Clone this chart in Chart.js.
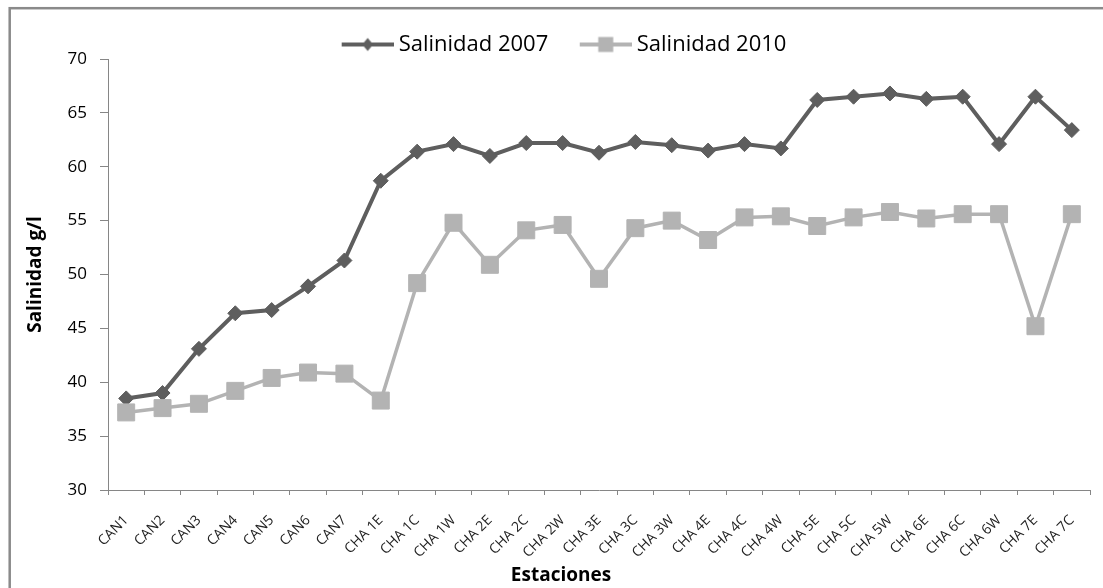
<!DOCTYPE html>
<html>
<head>
<meta charset="utf-8">
<script src="https://cdn.jsdelivr.net/npm/chart.js@4.4.1/dist/chart.umd.min.js"></script>
<style>
  html, body { margin: 0; padding: 0; background: #fff; overflow: hidden; }
  canvas { display: block; }
</style>
</head>
<body>
<canvas id="c" width="1103" height="588"></canvas>
<script>
// Stations along the channel
const estaciones = ['CAN1', 'CAN2', 'CAN3', 'CAN4', 'CAN5', 'CAN6', 'CAN7',
  'CHA 1E', 'CHA 1C', 'CHA 1W', 'CHA 2E', 'CHA 2C', 'CHA 2W', 'CHA 3E', 'CHA 3C', 'CHA 3W',
  'CHA 4E', 'CHA 4C', 'CHA 4W', 'CHA 5E', 'CHA 5C', 'CHA 5W', 'CHA 6E', 'CHA 6C', 'CHA 6W',
  'CHA 7E', 'CHA 7C'];

// Salinity (g/l) per station
const salinidad2007 = [38.5, 39.0, 43.1, 46.4, 46.7, 48.9, 51.3, 58.7, 61.4, 62.1, 61.0, 62.2, 62.2, 61.3,
  62.3, 62.0, 61.5, 62.1, 61.7, 66.2, 66.5, 66.8, 66.3, 66.5, 62.1, 66.5, 63.4];
const salinidad2010 = [37.2, 37.6, 38.0, 39.2, 40.4, 40.9, 40.8, 38.3, 49.2, 54.8, 50.9, 54.1, 54.6, 49.6,
  54.3, 55.0, 53.2, 55.3, 55.4, 54.5, 55.3, 55.8, 55.2, 55.6, 55.6, 45.2, 55.6];

const yTicks = [30, 35, 40, 45, 50, 55, 60, 65, 70];
const seriesNames = ['Salinidad 2007', 'Salinidad 2010'];

const FONT = "'Open Sans', sans-serif";
const COLOR_2007 = '#5e5e5e';
const COLOR_2010 = '#b3b3b3';
const AXIS = '#868686';

// Legend swatch: a short line with the series marker in its middle
function legendIcon(color, shape) {
  const W = 64, H = 20, len = 52;
  const cv = document.createElement('canvas');
  cv.width = W; cv.height = H;
  const c = cv.getContext('2d');
  c.strokeStyle = color;
  c.lineWidth = 4;
  c.beginPath();
  c.moveTo(W - len, H / 2);
  c.lineTo(W, H / 2);
  c.stroke();
  c.fillStyle = color;
  const cx = W - len / 2, cy = H / 2;
  c.beginPath();
  if (shape === 'diamond') {
    c.moveTo(cx, cy - 6.5); c.lineTo(cx + 5.5, cy); c.lineTo(cx, cy + 6.5); c.lineTo(cx - 5.5, cy);
    c.closePath();
  } else {
    c.rect(cx - 7.5, cy - 7.5, 15, 15);
  }
  c.fill();
  return cv;
}

const icons = [legendIcon(COLOR_2007, 'diamond'), legendIcon(COLOR_2010, 'square')];

// White background and the grey frame of the chart area
const frame = {
  id: 'frame',
  beforeDraw(chart) {
    const ctx = chart.ctx;
    ctx.save();
    ctx.fillStyle = '#fff';
    ctx.fillRect(0, 0, chart.width, chart.height);
    ctx.strokeStyle = '#8a8a8a';
    ctx.lineWidth = 2.5;
    ctx.strokeRect(9.7, 8.2, chart.width + 50, chart.height + 50);
    ctx.restore();
  }
};

new Chart(document.getElementById('c'), {
  type: 'line',
  data: {
    labels: estaciones,
    datasets: [
      {
        label: seriesNames[0],
        data: salinidad2007,
        borderColor: COLOR_2007,
        backgroundColor: COLOR_2007,
        borderWidth: 4,
        tension: 0,
        pointStyle: 'rectRot',
        pointRadius: 7.5,
        pointBorderWidth: 1,
        pointBackgroundColor: COLOR_2007,
        pointBorderColor: COLOR_2007,
        order: 1
      },
      {
        label: seriesNames[1],
        data: salinidad2010,
        borderColor: COLOR_2010,
        backgroundColor: COLOR_2010,
        borderWidth: 3.5,
        tension: 0,
        pointStyle: 'rect',
        pointRadius: 12,
        pointBorderWidth: 1,
        pointBackgroundColor: COLOR_2010,
        pointBorderColor: COLOR_2010,
        order: 0
      }
    ]
  },
  options: {
    responsive: false,
    animation: false,
    devicePixelRatio: 1,
    events: [],
    layout: { padding: { top: 8, left: 28, right: 9, bottom: 0 } },
    plugins: {
      legend: {
        position: 'top',
        maxHeight: 51,
        labels: {
          usePointStyle: true,
          pointStyleWidth: 52,
          padding: 25.5,
          color: '#000',
          font: { family: FONT, size: 22 },
          generateLabels(chart) {
            return chart.data.datasets.map((ds, i) => ({
              text: ds.label,
              pointStyle: icons[i],
              fillStyle: ds.borderColor,
              strokeStyle: ds.borderColor,
              lineWidth: 0,
              fontColor: '#000',
              hidden: false,
              datasetIndex: i
            }));
          }
        }
      },
      title: {
        display: true,
        position: 'bottom',
        text: 'Estaciones',
        color: '#000',
        font: { family: FONT, size: 19, weight: 'bold' },
        padding: { top: 6, bottom: 1 }
      },
      tooltip: { enabled: false }
    },
    scales: {
      x: {
        offset: true,
        grid: { offset: true, drawOnChartArea: false, tickLength: 5, color: AXIS },
        border: { color: AXIS, width: 1 },
        ticks: {
          autoSkip: false,
          minRotation: 45,
          maxRotation: 45,
          padding: 17,
          color: '#222',
          font: { family: FONT, size: 14 }
        },
        afterFit(s) { s.height = 68.2; }
      },
      y: {
        min: yTicks[0],
        max: yTicks[yTicks.length - 1],
        afterBuildTicks(s) { s.ticks = yTicks.map(v => ({ value: v })); },
        ticks: { padding: 13, color: '#000', font: { family: FONT, size: 17 } },
        grid: { drawOnChartArea: false, tickLength: 8, color: AXIS },
        border: { color: AXIS, width: 1 },
        title: {
          display: true,
          text: 'Salinidad g/l',
          color: '#000',
          padding: 0,
          font: { family: FONT, size: 19, weight: 'bold', lineHeight: 0.8 }
        },
        afterFit(s) { s.width = 80; }
      }
    }
  },
  plugins: [frame]
});
</script>
</body>
</html>
